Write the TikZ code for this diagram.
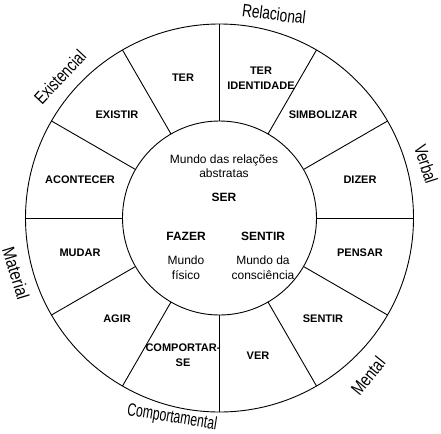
\documentclass[tikz,border=0pt]{standalone}
\usepackage{fontspec}
\setmainfont{Liberation Sans}
\begin{document}
\begin{tikzpicture}[x=1pt,y=-1pt,
  seg/.style={font=\fontsize{11}{15}\selectfont\bfseries, align=center, inner sep=0pt},
  mid/.style={font=\fontsize{12}{14.5}\selectfont, align=center, inner sep=0pt},
  midb/.style={font=\fontsize{12}{14.5}\selectfont\bfseries, inner sep=0pt},
  cat/.style={font=\fontsize{18}{18}\selectfont, inner sep=0pt},
  ring/.style={line width=0.9pt}]
\useasboundingbox (0,0) rectangle (441,433);
\coordinate (c) at (219.5,218);
\draw[ring] (c) circle[radius=194pt];
\draw[ring] (c) circle[radius=97pt];
\foreach \a in {0,30,...,330} \draw[ring, shift={(c)}] (\a:97pt) -- (\a:194pt);
% segment labels
\node[seg] (teride) at (261,78) {TER\\IDENTIDADE};
\node[seg] (ter) at (183,78) {TER};
\node[seg] (existir) at (117,115) {EXISTIR};
\node[seg] (simb) at (323,115) {SIMBOLIZAR};
\node[seg] (acont) at (80,180) {ACONTECER};
\node[seg] (dizer) at (360,180) {DIZER};
\node[seg] (mudar) at (80,253) {MUDAR};
\node[seg] (pensar) at (360,253) {PENSAR};
\node[seg] (agir) at (117,319) {AGIR};
\node[seg] (sentir2) at (323,319) {SENTIR};
\node[seg] (comp) at (183,355.5) {COMPORTAR-\\SE};
\node[seg] (ver) at (258,356) {VER};
% centre
\node[mid] (abs) at (224,166) {Mundo das relações\\abstratas};
\node[midb] (ser) at (224,197) {SER};
\node[midb] (fazer) at (186,236) {FAZER};
\node[midb] (sentir) at (263,236) {SENTIR};
\node[mid] (fis) at (186,267.5) {Mundo\\físico};
\node[mid] (cons) at (263,267.5) {Mundo da\\consciência};
% categories
\node[cat, rotate=-7] (rel) at (274,14) {\scalebox{0.76}[1]{Relacional}};
\node[cat, rotate=47] (exi) at (60,77) {\scalebox{0.77}[1]{Existencial}};
\node[cat, rotate=-72] (verb) at (426,164) {\scalebox{0.77}[1]{Verbal}};
\node[cat, rotate=-73] (mat) at (16,273) {\scalebox{0.84}[1]{Material}};
\node[cat, rotate=51] (ment) at (368,376) {\scalebox{0.79}[1]{Mental}};
\node[cat, rotate=-9] (compt) at (172,418) {\scalebox{0.68}[1]{Comportamental}};
\end{tikzpicture}
\end{document}
